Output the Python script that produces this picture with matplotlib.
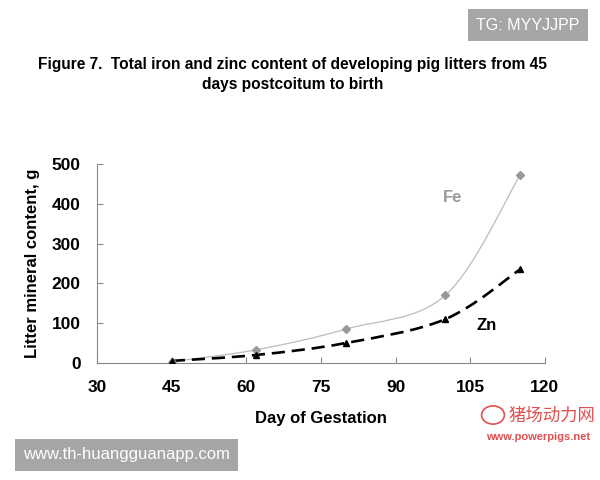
import numpy as np
import matplotlib
matplotlib.use("Agg")
import matplotlib.pyplot as plt
from matplotlib.path import Path
from matplotlib.patches import PathPatch, Circle

days = [45, 62, 80, 100, 115]
fe = [3, 33, 85, 170, 472]
zn = [5, 20, 50, 110, 235]
xticks = [30, 45, 60, 75, 90, 105, 120]
yticks = [0, 100, 200, 300, 400, 500]

plt.rcParams['font.family'] = ['Liberation Sans', 'DejaVu Sans']

fig = plt.figure(figsize=(6, 4.8), dpi=100)
ax = fig.add_axes([0.162, 0.244, 0.746, 0.414])
ax.set_xlim(30, 120)
ax.set_ylim(0, 500)


def smooth_path(xs, ys, sx, sy):
    # Catmull-Rom style bezier (Excel "smoothed line") in normalised space
    X = np.array(xs, float) / sx
    Y = np.array(ys, float) / sy
    P = np.column_stack([X, Y])
    n = len(P)
    verts = [P[0]]
    codes = [Path.MOVETO]
    t = 1 / 6
    for i in range(n - 1):
        p0 = P[i - 1] if i > 0 else P[i]
        p1 = P[i]
        p2 = P[i + 1]
        p3 = P[i + 2] if i + 2 < n else P[i + 1]
        c1 = p1 + (p2 - p0) * t
        c2 = p2 - (p3 - p1) * t
        verts += [c1, c2, p2]
        codes += [Path.CURVE4] * 3
    V = np.array(verts)
    V[:, 0] *= sx
    V[:, 1] *= sy
    return Path(V, codes)


sx, sy = 90.0, 500.0 * 0.414 * 4.8 / (0.746 * 6)
ax.add_patch(PathPatch(smooth_path(days, fe, sx, sy), facecolor='none',
                       edgecolor='#bcbcbc', lw=0.9, zorder=2))
ax.add_patch(PathPatch(smooth_path(days, zn, sx, sy), facecolor='none',
                       edgecolor='black', lw=1.9, linestyle=(0, (5, 2.6)), zorder=3))
ax.plot(days, fe, linestyle='none', marker='D', ms=4, color='#999999', zorder=4)
ax.plot(days, zn, linestyle='none', marker='^', ms=5, color='black', zorder=5)

ax.set_xticks(xticks)
ax.set_yticks(yticks)
for s in ['top', 'right']:
    ax.spines[s].set_visible(False)
for s in ['left', 'bottom']:
    ax.spines[s].set_color('#888888')
    ax.spines[s].set_linewidth(0.8)
ax.tick_params(direction='in', length=4, color='#888888', labelsize=12.5)
ax.tick_params(axis='x', pad=12)
ax.tick_params(axis='y', pad=12)
for lab in ax.get_xticklabels() + ax.get_yticklabels():
    lab.set_fontweight('bold')

ax.set_xlabel('Day of Gestation', fontsize=12, fontweight='bold', labelpad=12)
ax.set_ylabel('Litter mineral content, g', fontsize=12, fontweight='bold', labelpad=8)

ax.text(101.5, 417, 'Fe', color='#999999', fontsize=12, fontweight='bold',
        ha='center', va='center')
ax.text(108.3, 95, 'Zn', color='black', fontsize=12, fontweight='bold',
        ha='center', va='center')

fig.text(0.487, 1 - 64 / 480, 'Figure 7.  Total iron and zinc content of developing pig litters from 45',
         ha='center', va='center', fontsize=11.2, fontweight='bold')
fig.text(0.487, 1 - 84 / 480, 'days postcoitum to birth',
         ha='center', va='center', fontsize=11.2, fontweight='bold')

# watermarks
fig.text(528 / 600, 1 - 25 / 480, 'TG: MYYJJPP', ha='center', va='center',
         fontsize=11.5, color='white',
         bbox=dict(boxstyle='square,pad=0.55', facecolor='#a6a6a6', edgecolor='none'))
fig.text(126.5 / 600, 1 - 455 / 480, 'www.th-huangguanapp.com', ha='center', va='center',
         fontsize=12, color='white',
         bbox=dict(boxstyle='square,pad=0.5', facecolor='#a6a6a6', edgecolor='none'))
fig.text(552 / 600, 1 - 416 / 480, '猪场动力网', ha='center', va='center',
         fontsize=12.5, color='#e05050', family=['Noto Sans CJK SC', 'DejaVu Sans'])
fig.text(538 / 600, 1 - 437 / 480, 'www.powerpigs.net', ha='center', va='center',
         fontsize=8, color='#e05050', fontweight='bold')
fig.add_artist(Circle((493 / 600, 1 - 415 / 480), 0.019, transform=fig.transFigure,
                      facecolor='none', edgecolor='#e05050', lw=1.2))

fig.savefig('out.png', dpi=100)
